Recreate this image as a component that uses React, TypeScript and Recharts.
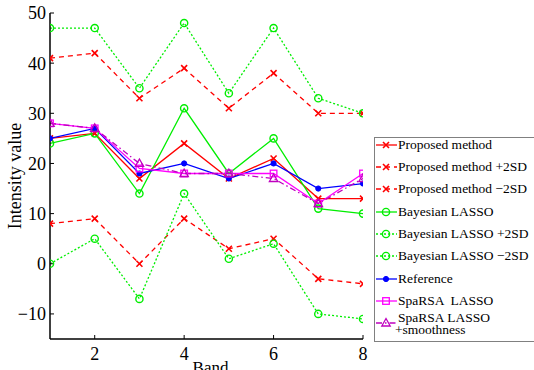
import React from "react";
import { Legend, Line, LineChart, XAxis, YAxis } from "recharts";

const bands = [1, 2, 3, 4, 5, 6, 7, 8];
const proposed = [25, 26, 17, 24, 17, 21, 13, 13];
const proposedPlus = [41, 42, 33, 39, 31, 38, 30, 30];
const proposedMinus = [8, 9, 0, 9, 3, 5, -3, -4];
const bayes = [24, 26, 14, 31, 18, 25, 11, 10];
const bayesPlus = [47, 47, 35, 48, 34, 47, 33, 30];
const bayesMinus = [0, 5, -7, 14, 1, 4, -10, -11];
const reference = [25, 27, 18, 20, 17, 20, 15, 16];
const sparsa = [28, 27, 19, 18, 18, 18, 12, 18];
const sparsaSmooth = [28, 27, 20, 18, 18, 17, 12, 17];

const xTicks = [2, 4, 6, 8];
const yTicks = [-10, 0, 10, 20, 30, 40, 50];

const FONT = '"Liberation Serif", "Times New Roman", serif';
const RED = "#ff0000";
const GREEN = "#00ee00";
const BLUE = "#0000ff";
const MAGENTA = "#ff00ff";
const PURPLE = "#bf00bf";

const data = bands.map((band, i) => ({
  band,
  proposed: proposed[i],
  proposedPlus: proposedPlus[i],
  proposedMinus: proposedMinus[i],
  bayes: bayes[i],
  bayesPlus: bayesPlus[i],
  bayesMinus: bayesMinus[i],
  reference: reference[i],
  sparsa: sparsa[i],
  sparsaSmooth: sparsaSmooth[i],
}));

type MarkerKind = "cross" | "circle" | "dot" | "square" | "triangle";

function Marker({ kind, cx, cy, color }: { kind: MarkerKind; cx: number; cy: number; color: string }) {
  switch (kind) {
    case "cross":
      return (
        <path
          d={`M${cx - 3},${cy - 3}L${cx + 3},${cy + 3}M${cx - 3},${cy + 3}L${cx + 3},${cy - 3}`}
          stroke={color}
          strokeWidth={1.6}
          fill="none"
        />
      );
    case "circle":
      return <circle cx={cx} cy={cy} r={3.6} stroke={color} strokeWidth={1.4} fill="none" />;
    case "dot":
      return <circle cx={cx} cy={cy} r={2.6} stroke={color} fill={color} />;
    case "square":
      return <rect x={cx - 3.3} y={cy - 3.3} width={6.6} height={6.6} stroke={color} strokeWidth={1.3} fill="none" />;
    case "triangle":
      return (
        <path
          d={`M${cx},${cy - 4.5}L${cx + 4.2},${cy + 3}L${cx - 4.2},${cy + 3}Z`}
          stroke={color}
          strokeWidth={1.3}
          fill="none"
        />
      );
  }
}

interface SeriesDef {
  key: string;
  name: string;
  color: string;
  dash?: string;
  marker: MarkerKind;
}

const series: SeriesDef[] = [
  { key: "proposed", name: "Proposed method", color: RED, marker: "cross" },
  { key: "proposedPlus", name: "Proposed method +2SD", color: RED, dash: "5 4", marker: "cross" },
  { key: "proposedMinus", name: "Proposed method \u22122SD", color: RED, dash: "5 4", marker: "cross" },
  { key: "bayes", name: "Bayesian LASSO", color: GREEN, marker: "circle" },
  { key: "bayesPlus", name: "Bayesian LASSO +2SD", color: GREEN, dash: "2 2", marker: "circle" },
  { key: "bayesMinus", name: "Bayesian LASSO \u22122SD", color: GREEN, dash: "2 2", marker: "circle" },
  { key: "reference", name: "Reference", color: BLUE, marker: "dot" },
  { key: "sparsa", name: "SpaRSA  LASSO", color: MAGENTA, marker: "square" },
  { key: "sparsaSmooth", name: "SpaRSA LASSO\n+smoothness", color: PURPLE, dash: "6 3 1.5 3", marker: "triangle" },
];

const ROW = 22.35;

function LegendBox() {
  return (
    <div
      style={{
        position: "relative",
        width: 170,
        height: 203,
        border: "1px solid #808080",
        background: "#fff",
        fontFamily: FONT,
        fontSize: 13.5,
        color: "#000",
      }}
    >
      {series.map((s, i) => {
        const cy = 6.5 + ROW * i;
        const lines = s.name.split("\n");
        const multi = lines.length > 1;
        return (
          <div key={s.key} style={{ position: "absolute", left: 0, top: cy - 10, height: 20, width: 170 }}>
            <svg width={24} height={20} style={{ position: "absolute", left: 0, top: 0 }}>
              <line x1={1} y1={10} x2={22} y2={10} stroke={s.color} strokeWidth={1.3} strokeDasharray={s.dash} />
              <Marker kind={s.marker} cx={11} cy={10} color={s.color} />
            </svg>
            <div style={{ position: "absolute", left: 23, top: multi ? -1 : 1, whiteSpace: "pre", lineHeight: multi ? "11.5px" : "18px" }}>
              {lines.map((l, j) => (
                <div key={j} style={{ marginLeft: j > 0 ? -3 : 0 }}>{l}</div>
              ))}
            </div>
          </div>
        );
      })}
    </div>
  );
}

function YLabel(props: any) {
  const vb = props.viewBox ?? { x: 0, y: 13, width: 50, height: 326 };
  const x = vb.x + 15;
  const y = vb.y + vb.height / 2;
  return (
    <text x={x} y={y} transform={`rotate(-90 ${x} ${y})`} textAnchor="middle" dominantBaseline="central" fontFamily={FONT} fontSize={18} fill="#000">
      Intensity value
    </text>
  );
}

function XLabel(props: any) {
  const vb = props.viewBox ?? { x: 50, y: 339, width: 313, height: 31 };
  return (
    <text x={vb.x + vb.width / 2 + 4} y={vb.y + 34} textAnchor="middle" fontFamily={FONT} fontSize={17} fill="#000">
      Band
    </text>
  );
}

const fmt = (v: number) => (v < 0 ? `\u2212${Math.abs(v)}` : `${v}`);
const tickStyle = { fontFamily: FONT, fontSize: 18, fill: "#000" };
const axisLine = { stroke: "#000", strokeWidth: 1.5 };

export default function App() {
  return (
    <div style={{ position: "absolute", left: 0, top: 0, width: 534, height: 370, background: "#fff", fontFamily: FONT }}>
      <LineChart width={534} height={370} data={data} margin={{ top: 13, right: 171, left: 0, bottom: 0 }} style={{ fontFamily: FONT }}>
        <XAxis
          dataKey="band"
          type="number"
          domain={[1, 8]}
          ticks={xTicks}
          interval={0}
          height={31}
          tick={tickStyle}
          fontFamily={FONT}
          fontSize={18}
          tickSize={-4}
          tickMargin={12}
          axisLine={axisLine}
          tickLine={{ stroke: "#000" }}
          label={<XLabel />}
          allowDataOverflow
        />
        <XAxis
          xAxisId="top"
          orientation="top"
          dataKey="band"
          type="number"
          domain={[1, 8]}
          ticks={xTicks}
          interval={0}
          height={0}
          tick={false}
          tickSize={-4}
          axisLine={axisLine}
          tickLine={{ stroke: "#000" }}
          allowDataOverflow
        />
        <YAxis
          type="number"
          domain={[-15, 50]}
          ticks={yTicks}
          interval={0}
          width={50}
          tick={tickStyle}
          fontFamily={FONT}
          fontSize={18}
          tickFormatter={fmt}
          tickSize={-4}
          tickMargin={8}
          axisLine={axisLine}
          tickLine={{ stroke: "#000" }}
          label={<YLabel />}
          allowDataOverflow
        />
        <YAxis
          yAxisId="right"
          orientation="right"
          type="number"
          domain={[-15, 50]}
          ticks={yTicks}
          interval={0}
          width={0}
          tick={false}
          tickSize={-4}
          axisLine={axisLine}
          tickLine={{ stroke: "#000" }}
          allowDataOverflow
        />
        <Legend
          layout="vertical"
          align="center"
          verticalAlign="middle"
          content={<LegendBox />}
          wrapperStyle={{ left: 374, top: 137, width: 172, height: 205 }}
        />
        {series.map((s) => (
          <Line
            key={s.key}
            dataKey={s.key}
            name={s.name}
            type="linear"
            stroke={s.color}
            strokeWidth={1.3}
            strokeDasharray={s.dash}
            isAnimationActive={false}
            dot={(p: any) => <Marker key={`${s.key}-${p.index}`} kind={s.marker} cx={p.cx} cy={p.cy} color={s.color} />}
            activeDot={false}
          />
        ))}
      </LineChart>
    </div>
  );
}
